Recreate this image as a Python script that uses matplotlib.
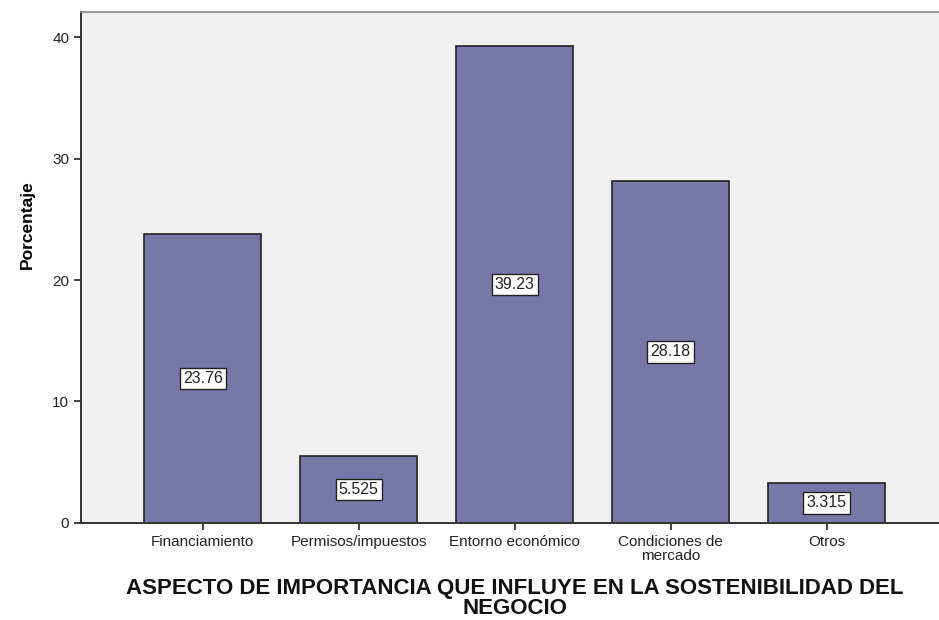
import matplotlib
matplotlib.use("Agg")
import matplotlib.pyplot as plt

categories = ["Financiamiento", "Permisos/impuestos", "Entorno económico",
              "Condiciones de\nmercado", "Otros"]
values = [23.76, 5.525, 39.23, 28.18, 3.315]
value_labels = ["23.76", "5.525", "39.23", "28.18", "3.315"]
yticks = [0, 10, 20, 30, 40]
x_title = "ASPECTO DE IMPORTANCIA QUE INFLUYE EN LA SOSTENIBILIDAD DEL\nNEGOCIO"

plt.rcParams["font.family"] = ["Liberation Sans", "DejaVu Sans"]

fig = plt.figure(figsize=(9.39, 6.2), dpi=100)
ax = fig.add_axes([0.0863, 0.1565, 0.9137, 0.8241])
ax.set_facecolor("#f0f0f0")

x = list(range(len(categories)))
ax.bar(x, values, width=0.75, color="#7878a8", edgecolor="#222222",
       linewidth=1.2, zorder=2)

for xi, v, lab in zip(x, values, value_labels):
    ax.text(xi, v / 2, lab, ha="center", va="center", fontsize=11.5,
            color="#222222", zorder=3,
            bbox=dict(boxstyle="square,pad=0.2", facecolor="white",
                      edgecolor="#222222", linewidth=1.0))

ax.set_xlim(-0.78, 4.72)
ax.set_ylim(0, 42.06)
ax.set_yticks(yticks)
ax.set_xticks(x)
ax.set_xticklabels(categories, fontsize=11, color="#222222", linespacing=0.95)
ax.tick_params(axis="y", labelsize=11, colors="#222222", length=5, width=1.2)
ax.tick_params(axis="x", length=5, width=1.2, colors="#222222", pad=4)

for side in ("left", "bottom"):
    ax.spines[side].set_color("#333333")
    ax.spines[side].set_linewidth(1.4)
ax.spines["top"].set_color("#8a8a8a")
ax.spines["top"].set_linewidth(1.2)
ax.spines["right"].set_visible(False)

ax.set_ylabel("Porcentaje", fontsize=12.5, fontweight="bold")
ax.yaxis.set_label_coords(-0.054, 0.583)

# Axis title drawn as a figure text so both lines sit tight under the ticks
fig.text(0.548, 0.068, x_title, ha="center", va="top", fontsize=16,
         fontweight="bold", linespacing=0.92, color="#111111")

fig.savefig("out.png", dpi=100)
